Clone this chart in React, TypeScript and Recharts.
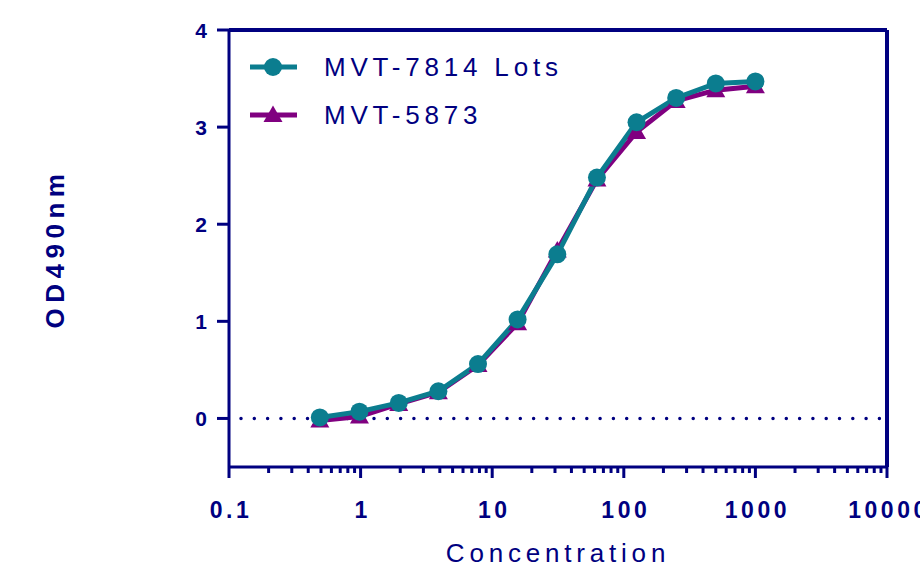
import React from 'react'
import {
  LineChart,
  Line,
  XAxis,
  YAxis,
  ReferenceLine,
  Legend,
  Label,
} from 'recharts'

const NAVY = '#000080'
const TEAL = '#0b7d8f'
const PURPLE = '#800080'
const FONT = '"Liberation Sans", Arial, sans-serif'

// concentration series (2-fold dilutions)
const concentrations = [0.49, 0.98, 1.95, 3.9, 7.8, 15.6, 31.25, 62.5, 125, 250, 500, 1000]
const lots7814 = [0.01, 0.07, 0.16, 0.28, 0.56, 1.02, 1.69, 2.48, 3.05, 3.3, 3.45, 3.47]
const ref5873 = [-0.02, 0.02, 0.15, 0.27, 0.55, 0.98, 1.73, 2.46, 2.95, 3.27, 3.38, 3.42]

const majorTicks = [0.1, 1, 10, 100, 1000, 10000]
const minorSteps = [2, 3, 4, 5, 6, 7, 8, 9]
const yTicks = [0, 1, 2, 3, 4]

const seriesNames = ['MVT-7814 Lots', 'MVT-5873']

const data = concentrations.map((c, i) => ({
  conc: c,
  lots: lots7814[i],
  ref: ref5873[i],
}))

const xTicks = [
  ...majorTicks,
  ...majorTicks.slice(0, -1).flatMap((d) => minorSteps.map((k) => d * k)),
].sort((a, b) => a - b)

function XTick(props: any) {
  const { x, y, payload } = props
  const v = payload.value
  const major = majorTicks.includes(v)
  return (
    <g>
      <line x1={x} x2={x} y1={y} y2={y + (major ? 11 : 6)} stroke={NAVY} strokeWidth={3} />
      {major && (
        <text
          x={x + 2}
          y={y + 51}
          textAnchor="middle"
          fill={NAVY}
          fontSize={23}
          fontWeight="bold"
          fontFamily={FONT}
          letterSpacing={3.5}
        >
          {String(v)}
        </text>
      )}
    </g>
  )
}

function YTick(props: any) {
  const { x, y, payload } = props
  return (
    <text
      x={x}
      y={y}
      dy="0.36em"
      textAnchor="end"
      fill={NAVY}
      fontSize={21}
      fontWeight="bold"
      fontFamily={FONT}
    >
      {String(payload.value)}
    </text>
  )
}

function CircleDot(props: any) {
  const { cx, cy } = props
  if (cx == null || cy == null) return null
  return <circle cx={cx} cy={cy} r={9} fill={TEAL} />
}

function TriangleDot(props: any) {
  const { cx, cy } = props
  if (cx == null || cy == null) return null
  const s = 9.5
  return (
    <polygon
      points={`${cx},${cy - s} ${cx - s},${cy + 7} ${cx + s},${cy + 7}`}
      fill={PURPLE}
    />
  )
}

function LegendBox() {
  return (
    <svg width={360} height={110}>
      <line x1={10} x2={57} y1={22} y2={22} stroke={TEAL} strokeWidth={5} />
      <circle cx={33} cy={22} r={9} fill={TEAL} />
      <text x={84} y={31} fill={NAVY} fontSize={26} fontFamily={FONT} letterSpacing={4.8}>
        {seriesNames[0]}
      </text>
      <line x1={10} x2={57} y1={70} y2={70} stroke={PURPLE} strokeWidth={5} />
      <polygon points="33,60.5 23.5,77 42.5,77" fill={PURPLE} />
      <text x={84} y={79} fill={NAVY} fontSize={26} fontFamily={FONT} letterSpacing={4.8}>
        {seriesNames[1]}
      </text>
    </svg>
  )
}

export default function App() {
  return (
    <div style={{ position: 'absolute', left: 0, top: 0, width: 920, height: 563 }}>
      <LineChart
        width={920}
        height={563}
        data={data}
        margin={{ top: 30, right: 33, bottom: 0, left: 0 }}
      >
        <XAxis
          dataKey="conc"
          type="number"
          scale="log"
          domain={[0.1, 10000]}
          ticks={xTicks}
          interval={0}
          allowDataOverflow
          height={96}
          tickSize={0}
          tickMargin={0}
          tickLine={false}
          tick={<XTick />}
          axisLine={{ stroke: NAVY, strokeWidth: 3 }}
        >
          <Label
            value="Concentration"
            position="insideBottom"
            offset={1}
            fill={NAVY}
            fontSize={26}
            fontFamily={FONT}
            letterSpacing={4.8}
          />
        </XAxis>
        <YAxis
          type="number"
          domain={[-0.5, 4]}
          ticks={yTicks}
          interval={0}
          width={229}
          tickSize={12}
          tickMargin={10}
          tickLine={{ stroke: NAVY, strokeWidth: 3 }}
          axisLine={{ stroke: NAVY, strokeWidth: 3 }}
          tick={<YTick />}
        >
          <Label
            value="OD490nm"
            angle={-90}
            position="insideLeft"
            offset={55}
            fill={NAVY}
            fontSize={26}
            fontWeight="bold"
            fontFamily={FONT}
            letterSpacing={5.5}
            style={{ textAnchor: 'middle' }}
          />
        </YAxis>
        <ReferenceLine
          y={0}
          stroke={NAVY}
          strokeWidth={3.5}
          strokeDasharray="0 13.3"
          strokeDashoffset={1.3}
          strokeLinecap="round"
        />
        <ReferenceLine y={4} stroke={NAVY} strokeWidth={4} />
        <ReferenceLine x={10000} stroke={NAVY} strokeWidth={4} />
        <Legend
          layout="vertical"
          align="center"
          verticalAlign="middle"
          wrapperStyle={{ left: 240, top: 45, width: 360 }}
          content={() => <LegendBox />}
        />
        <Line
          dataKey="ref"
          name={seriesNames[1]}
          stroke={PURPLE}
          strokeWidth={5}
          dot={<TriangleDot />}
          activeDot={false}
          isAnimationActive={false}
        />
        <Line
          dataKey="lots"
          name={seriesNames[0]}
          stroke={TEAL}
          strokeWidth={5}
          dot={<CircleDot />}
          activeDot={false}
          isAnimationActive={false}
        />
      </LineChart>
    </div>
  )
}
